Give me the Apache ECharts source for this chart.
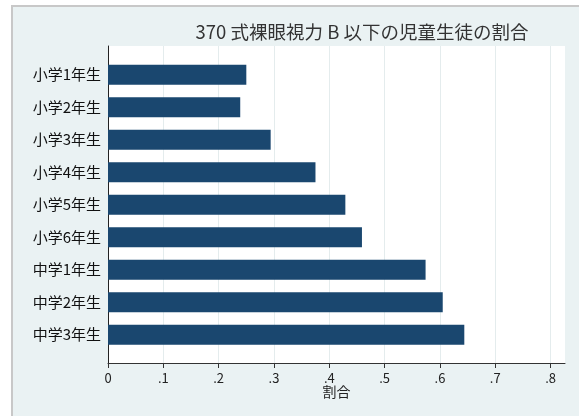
<!DOCTYPE html>
<html>
<head>
<meta charset="utf-8">
<script src="https://cdn.jsdelivr.net/npm/echarts@6/dist/echarts.min.js"></script>
<style>
  html, body { margin: 0; padding: 0; background: #ffffff; }
  #chart { width: 579px; height: 416px; }
</style>
</head>
<body>
<div id="chart"></div>
<script>
// Categories (top to bottom) and the share of pupils with uncorrected vision below B
const grades = ['小学1年生', '小学2年生', '小学3年生', '小学4年生', '小学5年生', '小学6年生', '中学1年生', '中学2年生', '中学3年生'];
const shares = [0.250, 0.239, 0.294, 0.375, 0.429, 0.459, 0.574, 0.605, 0.644];
const tickValues = [0, 0.1, 0.2, 0.3, 0.4, 0.5, 0.6, 0.7, 0.8];
const tickLabels = ['0', '.1', '.2', '.3', '.4', '.5', '.6', '.7', '.8'];

const titleText = '370 式裸眼視力 B 以下の児童生徒の割合';
const axisTitle = '割合';

const FONT = '"Noto Sans CJK JP", "Noto Sans", sans-serif';
const NAVY = '#1a476f';
const PANEL = '#eaf2f3';
const XMAX = 0.826;

const chart = echarts.init(document.getElementById('chart'), null, { renderer: 'canvas' });

chart.setOption({
  backgroundColor: '#ffffff',
  animation: false,
  graphic: [{
    type: 'rect',
    z: -10,
    shape: { x: 12, y: 6, width: 640, height: 480 },
    style: { fill: PANEL, stroke: '#c8c8c8', lineWidth: 2 },
    silent: true
  }],
  title: {
    text: titleText,
    left: 357,
    top: 18,
    textAlign: 'center',
    textStyle: { fontFamily: FONT, fontSize: 18.5, fontWeight: 'normal', color: '#333333' }
  },
  grid: [
    // outer plot frame with axes
    { left: 108, right: 14, top: 46, bottom: 53, show: true, backgroundColor: '#ffffff', borderWidth: 0 },
    // bar band area
    { left: 108, right: 14, top: 58.5, bottom: 65, show: false }
  ],
  xAxis: [{
    gridIndex: 0,
    type: 'value',
    min: 0,
    max: XMAX,
    interval: 0.1,
    name: axisTitle,
    nameLocation: 'middle',
    nameGap: 22,
    nameMoveOverlap: false,
    nameTextStyle: { fontFamily: FONT, fontSize: 14, color: '#222222' },
    axisLine: { show: true, lineStyle: { color: '#333333', width: 1 } },
    axisTick: { show: true, length: 5, customValues: tickValues, lineStyle: { color: '#333333' } },
    axisLabel: {
      customValues: tickValues,
      margin: 9,
      fontFamily: FONT,
      fontSize: 13,
      color: '#222222',
      formatter: v => {
        const i = tickValues.findIndex(t => Math.abs(t - v) < 1e-6);
        return i >= 0 ? tickLabels[i] : '';
      }
    },
    splitLine: { show: true, lineStyle: { color: '#e4eced', width: 1 } }
  }, {
    gridIndex: 1,
    type: 'value',
    min: 0,
    max: XMAX,
    show: false
  }],
  yAxis: [{
    gridIndex: 0,
    type: 'value',
    min: 0,
    max: 1,
    axisLine: { show: true, lineStyle: { color: '#222222', width: 1 } },
    axisTick: { show: false },
    axisLabel: { show: false },
    splitLine: { show: false }
  }, {
    gridIndex: 1,
    type: 'category',
    inverse: true,
    data: grades,
    axisLine: { show: false },
    axisTick: { show: false },
    axisLabel: { margin: 7, fontFamily: FONT, fontSize: 15, color: '#111111' },
    splitLine: { show: false }
  }],
  series: [{
    type: 'bar',
    xAxisIndex: 1,
    yAxisIndex: 1,
    data: shares,
    barWidth: 20,
    itemStyle: { color: NAVY },
    silent: true
  }]
});
</script>
</body>
</html>
